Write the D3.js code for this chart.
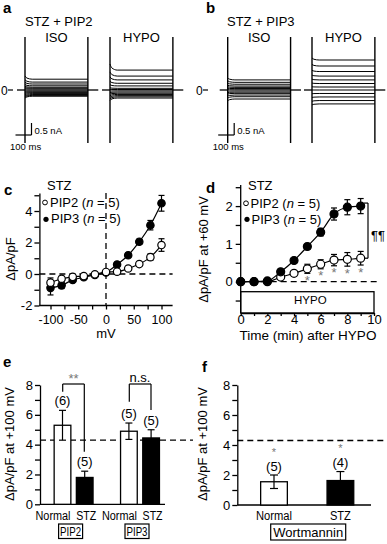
<!DOCTYPE html>
<html>
<head>
<meta charset="utf-8">
<script src="https://cdn.jsdelivr.net/npm/d3@7"></script>
<style>
  body { margin: 0; background: #fff; }
</style>
</head>
<body>
<div id="fig"></div>
<script>
// ---------- data ----------
// a, b: steady-state current of each voltage step (nA)
var aIsoLevels  = [0.45, 0.33, 0.25, 0.175, 0.115, 0.075, 0.04, 0, -0.04, -0.075, -0.11, -0.15, -0.19, -0.225, -0.26];
var aHypoLevels = [0.83, 0.58, 0.42, 0.28, 0.17, 0.07, 0.02, -0.035, -0.085, -0.135, -0.185, -0.235, -0.285, -0.335];
var bIsoLevels  = [0.42, 0.32, 0.24, 0.165, 0.11, 0.06, 0.01, -0.04, -0.09, -0.14, -0.21, -0.28, -0.375];
var bHypoLevels = [1.25, 1.0, 0.77, 0.58, 0.42, 0.27, 0.125, 0, -0.145, -0.29, -0.44, -0.58];

// c: I-V relation
var cVolt    = [-100, -80, -60, -40, -20, 0, 20, 40, 60, 80, 100];
var cPip2    = [-0.55, -0.3, -0.18, -0.13, -0.02, 0.13, 0.15, 0.35, 0.63, 1.07, 1.84];
var cPip2Err = [0.3, 0.15, 0.1, 0.08, 0.05, 0.05, 0.05, 0.08, 0.12, 0.2, 0.4];
var cPip3    = [-0.88, -0.72, -0.38, -0.21, -0.06, 0.1, 0.6, 1.19, 2.05, 3.1, 4.49];
var cPip3Err = [0.45, 0.2, 0.1, 0.08, 0.05, 0.05, 0.08, 0.1, 0.15, 0.3, 0.5];

// d: time course at +60 mV
var dTime    = [0, 1, 2, 3, 4, 5, 6, 7, 8, 9];
var dPip2    = [0, 0, 0, 0.12, 0.22, 0.34, 0.46, 0.57, 0.59, 0.62];
var dPip2Err = [0, 0, 0, 0.05, 0.07, 0.12, 0.12, 0.15, 0.18, 0.18];
var dPip3    = [0, 0, 0.02, 0.26, 0.56, 0.93, 1.31, 1.79, 1.97, 2.0];
var dPip3Err = [0, 0, 0.02, 0.05, 0.05, 0.06, 0.1, 0.16, 0.2, 0.2];
var dStarTimes = [5, 6, 7, 8, 9];

// e: bars at +100 mV
var eGroups = ['PIP2', 'PIP3'];
var eConds  = ['Normal', 'STZ'];
var eValues = [[5.3, 1.8], [4.9, 4.45]];
var eErrors = [[1.0, 0.42], [0.55, 0.55]];
var eCounts = [['(6)', '(5)'], ['(5)', '(5)']];
var controlLevel = 4.3;

// f: wortmannin
var fConds  = ['Normal', 'STZ'];
var fValues = [1.55, 1.63];
var fErrors = [0.45, 0.6];
var fCounts = ['(5)', '(4)'];

// ---------- setup ----------
var FONT = '"Liberation Sans", Arial, Helvetica, sans-serif';
var svg = d3.select('#fig').append('svg')
    .attr('width', 387).attr('height', 544)
    .style('background', '#fff')
    .attr('font-family', FONT);

function txt(x, y, s, size, anchor, extra) {
  var t = svg.append('text').attr('x', x).attr('y', y)
      .attr('font-size', size).attr('text-anchor', anchor || 'start')
      .attr('fill', '#000').text(s);
  if (extra) extra(t);
  return t;
}
function ln(x1, y1, x2, y2, w, dash) {
  return svg.append('line').attr('x1', x1).attr('y1', y1).attr('x2', x2).attr('y2', y2)
      .attr('stroke', '#000').attr('stroke-width', w || 1.3)
      .attr('stroke-dasharray', dash || null);
}
function ylabel(x, y, s) {
  svg.append('text').attr('transform', 'translate(' + x + ',' + y + ') rotate(-90)')
      .attr('text-anchor', 'middle').attr('font-size', 13).text(s);
}
function styleAxis(g, fs) {
  g.attr('font-family', FONT).attr('font-size', fs);
  g.selectAll('path, line').attr('stroke', '#000').attr('stroke-width', 1.3);
  g.selectAll('text').attr('fill', '#000');
}
function legendLine(name, t) {
  t.append('tspan').text(name + ' (');
  t.append('tspan').attr('font-style', 'italic').text('n');
  t.append('tspan').text(' = 5)');
}
function squeeze(w) {
  return function (t) { t.attr('textLength', w).attr('lengthAdjust', 'spacingAndGlyphs'); };
}
function gray(t) { t.attr('fill', '#777'); }

// panel letters
[['a', 3, 13], ['b', 206, 13], ['c', 4, 195], ['d', 206, 193], ['e', 3, 367], ['f', 202, 372]]
  .forEach(function (p) {
    txt(p[1], p[2], p[0], 15, 'start', function (t) { t.attr('font-weight', 'bold'); });
  });

// ---------- a, b: current traces ----------
var tScale = d3.scaleLinear().domain([0, 100]).range([0, 16]);    // 100 ms = 16 px
var iScale = d3.scaleLinear().domain([0, 0.5]).range([90, 78]);   // 0.5 nA = 12 px
var pulseMs = 393;

var traceSets = [
  { x0: 25,    levels: aIsoLevels,  peak: 1.3 },
  { x0: 110,   levels: aHypoLevels, peak: 1.3 },
  { x0: 227.7, levels: bIsoLevels,  peak: 1.2 },
  { x0: 312,   levels: bHypoLevels, peak: 1.07 }
];

traceSets.forEach(function (set) {
  var line = d3.line()
      .x(function (d) { return set.x0 + tScale(d[0]); })
      .y(function (d) { return iScale(d[1]); })
      .curve(d3.curveMonotoneX);
  var g = svg.append('g');
  g.selectAll('path')
    .data(set.levels)
    .enter()
    .append('path')
    .attr('d', function (lv) {
      return line([[0, lv * set.peak], [12, lv * (1 + (set.peak - 1) * 0.35)], [45, lv], [pulseMs, lv]]);
    })
    .attr('fill', 'none').attr('stroke', '#000').attr('stroke-width', 1);
  // holding segments
  ln(set.x0 - tScale(50), iScale(0), set.x0, iScale(0), 1.3);
  ln(set.x0 + tScale(pulseMs), iScale(0), set.x0 + tScale(pulseMs) + tScale(65), iScale(0), 1.3);
  // capacitive transients
  ln(set.x0, 37, set.x0, 143, 1.4);
  ln(set.x0 + tScale(pulseMs), 37, set.x0 + tScale(pulseMs), 143, 1.4);
});

// zero markers
txt(1, 94.5, '0', 12);
ln(8, 90, 13, 90, 1.2);
txt(196, 94.5, '0', 12);
ln(203, 90, 208, 90, 1.2);

// titles
txt(25, 26, 'STZ + PIP2', 13);
txt(227, 26, 'STZ + PIP3', 13);
txt(25 + tScale(pulseMs) / 2, 41.5, 'ISO', 13, 'middle');
txt(110 + tScale(pulseMs) / 2, 41.5, 'HYPO', 13, 'middle');
txt(227.7 + tScale(pulseMs) / 2, 41.5, 'ISO', 13, 'middle');
txt(312 + tScale(pulseMs) / 2, 41.5, 'HYPO', 13, 'middle');

// scale bars
[25, 227.7].forEach(function (x0) {
  var xr = x0 + 6.5;
  ln(xr - tScale(100), 135, xr, 135, 1.2);
  ln(xr, 135, xr, 135 - (iScale(0) - iScale(0.5)), 1.2);
  txt(xr + 3, 134, '0.5 nA', 9.5);
  txt(x0 - 15, 150, '100 ms', 9.5);
});

// ---------- c: I-V ----------
var xC = d3.scaleLinear().domain([-120, 120]).range([39.4, 172.6]);
var yC = d3.scaleLinear().domain([-2, 5.15]).range([305.5, 192.9]);

var gcy = svg.append('g').attr('transform', 'translate(39.4,0)')
  .call(d3.axisLeft(yC).tickValues([-2, -1, 0, 1, 2, 3, 4, 5]).tickSize(5).tickSizeOuter(0).tickPadding(2)
    .tickFormat(function (d) { return d % 2 === 0 ? String(d) : ''; }));
styleAxis(gcy, 13);
var gcx = svg.append('g').attr('transform', 'translate(0,305.5)')
  .call(d3.axisBottom(xC).tickValues(d3.range(-100, 101, 25)).tickSize(4).tickSizeOuter(0).tickPadding(6)
    .tickFormat(function (d) { return d % 50 === 0 ? String(d) : ''; }));
styleAxis(gcx, 12.5);
gcx.select('.domain').attr('d', 'M39.4,0H172.6');

ln(xC(-120), yC(0), xC(120), yC(0), 1.3, '6,4');
ln(xC(0), yC(5.15), xC(0), yC(-2), 1.3, '6,4');

txt(106, 338, 'mV', 13, 'middle');
ylabel(14.5, 259, '\u0394pA/pF');

function drawSeries(xs, ys, errs, xs_, ys_, filled, r) {
  var g = svg.append('g');
  var line = d3.line().x(function (d, i) { return xs_(xs[i]); }).y(function (d) { return ys_(d); })
      .curve(d3.curveMonotoneX);
  g.append('path').attr('d', line(ys)).attr('fill', 'none').attr('stroke', '#000').attr('stroke-width', 1.2);
  // error bars with caps
  ys.forEach(function (v, i) {
    if (errs[i] < 0.04) return;
    var x = xs_(xs[i]);
    [[x, ys_(v - errs[i]), x, ys_(v + errs[i])],
     [x - 3, ys_(v + errs[i]), x + 3, ys_(v + errs[i])],
     [x - 3, ys_(v - errs[i]), x + 3, ys_(v - errs[i])]].forEach(function (s) {
      g.append('line').attr('x1', s[0]).attr('y1', s[1]).attr('x2', s[2]).attr('y2', s[3])
        .attr('stroke', '#000').attr('stroke-width', 1.2);
    });
  });
  g.selectAll('circle').data(ys).enter().append('circle')
    .attr('cx', function (d, i) { return xs_(xs[i]); })
    .attr('cy', function (d) { return ys_(d); })
    .attr('r', r)
    .attr('fill', filled ? '#000' : '#fff')
    .attr('stroke', '#000').attr('stroke-width', 1.2);
}

drawSeries(cVolt, cPip3, cPip3Err, xC, yC, true, 3.7);
drawSeries(cVolt, cPip2, cPip2Err, xC, yC, false, 3.7);

// legend c
txt(47, 190, 'STZ', 13);
svg.append('circle').attr('cx', 45).attr('cy', 202.5).attr('r', 2.4).attr('fill', '#fff').attr('stroke', '#000').attr('stroke-width', 1);
legendLine('PIP2', txt(50, 206.5, '', 13));
svg.append('circle').attr('cx', 46).attr('cy', 219.3).attr('r', 2.6).attr('fill', '#000');
legendLine('PIP3', txt(51, 223, '', 13));

// ---------- d: time course ----------
var xD = d3.scaleLinear().domain([0, 10]).range([240.7, 374]);
var yD = d3.scaleLinear().domain([-0.83, 2.5]).range([313, 187.2]);

var gdy = svg.append('g').attr('transform', 'translate(240.7,0)')
  .call(d3.axisLeft(yD).tickValues([-0.5, 0, 0.5, 1, 1.5, 2, 2.5]).tickSize(5).tickSizeOuter(0).tickPadding(3)
    .tickFormat(function (d) { return Number.isInteger(d) ? String(d) : ''; }));
styleAxis(gdy, 13);
gdy.select('.domain').attr('d', 'M0,313V185');
var gdx = svg.append('g').attr('transform', 'translate(0,313)')
  .call(d3.axisBottom(xD).tickValues(d3.range(0, 11, 1)).tickSize(3).tickSizeOuter(0).tickPadding(-1)
    .tickFormat(function (d) { return d % 2 === 0 ? String(d) : ''; }));
styleAxis(gdx, 13);

// HYPO bar
svg.append('rect').attr('x', xD(0)).attr('y', 291.7).attr('width', xD(10) - xD(0)).attr('height', 313 - 291.7)
  .attr('fill', 'none').attr('stroke', '#000').attr('stroke-width', 1.3);
txt((xD(0) + xD(10)) / 2 + 3, 303.5, 'HYPO', 11.5, 'middle');

ln(xD(0), yD(0), xD(10.2), yD(0), 1.3, '6,4');

drawSeries(dTime, dPip2, dPip2Err, xD, yD, false, 4);
drawSeries(dTime, dPip3, dPip3Err, xD, yD, true, 4);

dStarTimes.forEach(function (t) {
  var i = dTime.indexOf(t);
  txt(xD(t), yD(dPip2[i] - dPip2Err[i]) + 11.5, '*', 13, 'middle', gray);
});

// significance bracket
var last = dTime.length - 1;
var bx = 368;
ln(bx, yD(dPip3[last] + 0.08), bx, yD(dPip2[last]), 1.2);
ln(bx - 4, yD(dPip3[last] + 0.08), bx, yD(dPip3[last] + 0.08), 1.2);
ln(bx - 4, yD(dPip2[last]), bx, yD(dPip2[last]), 1.2);
txt(371, 240, '\u00b6\u00b6', 13, 'start', function (s) { s.style('fill', '#000').attr('stroke', 'none'); });

txt(248, 190, 'STZ', 13);
svg.append('circle').attr('cx', 246).attr('cy', 203.3).attr('r', 2.4).attr('fill', '#fff').attr('stroke', '#000').attr('stroke-width', 1);
legendLine('PIP2', txt(250.5, 207.5, '', 13));
svg.append('circle').attr('cx', 247).attr('cy', 219.3).attr('r', 2.6).attr('fill', '#000');
legendLine('PIP3', txt(251.5, 223.5, '', 13));

txt(308, 340, 'Time (min) after HYPO', 13.5, 'middle');
ylabel(207.5, 249.5, '\u0394pA/pF at +60 mV');

// ---------- e: bars ----------
var yE = d3.scaleLinear().domain([0, 8]).range([504.3, 385]);
var xEg = d3.scalePoint().domain(eGroups).range([73.6, 140]);
var xEc = d3.scalePoint().domain(eConds).range([-11.1, 11.1]);
var eBarW = 16.7;

var gey = svg.append('g').attr('transform', 'translate(40,0)')
  .call(d3.axisLeft(yE).tickValues(d3.range(0, 9, 1)).tickSize(5).tickSizeOuter(0).tickPadding(2)
    .tickFormat(function (d) { return d % 2 === 0 ? String(d) : ''; }));
styleAxis(gey, 13);
ln(40, yE(0), 165, yE(0), 1.3);
ln(40, yE(controlLevel), 193, yE(controlLevel), 1.3, '6,4');

eGroups.forEach(function (grp, gi) {
  eConds.forEach(function (cond, ci) {
    var cx = xEg(grp) + xEc(cond);
    var v = eValues[gi][ci], e = eErrors[gi][ci];
    ln(cx, yE(v - e), cx, yE(v + e), 1.2);
    ln(cx - 3.5, yE(v + e), cx + 3.5, yE(v + e), 1.2);
    ln(cx - 3.5, yE(v - e), cx + 3.5, yE(v - e), 1.2);
    svg.append('rect').attr('x', cx - eBarW / 2).attr('y', yE(v)).attr('width', eBarW).attr('height', yE(0) - yE(v))
      .attr('fill', ci === 0 ? '#fff' : '#000').attr('stroke', '#000').attr('stroke-width', 1.3);
    if (ci === 0) { ln(cx, yE(v), cx, yE(v - e), 1.2); ln(cx - 3.5, yE(v - e), cx + 3.5, yE(v - e), 1.2); }
    txt(cx, yE(v + e) - 5, eCounts[gi][ci], 13, 'middle');
    txt(cx + (ci === 0 ? -9.5 : 1.5), 520, cond, 12, 'middle', squeeze(ci === 0 ? 35 : 20));
  });
  var gx = xEg(grp) - 3;
  svg.append('rect').attr('x', gx - 12).attr('y', 524).attr('width', 24).attr('height', 14.5)
    .attr('fill', 'none').attr('stroke', '#000').attr('stroke-width', 1.2);
  txt(gx, 535.5, grp, 12, 'middle', squeeze(21));
});

// brackets in e
ln(62.7, 384, 84.3, 384, 1.2); ln(62.7, 384, 62.7, 391.7, 1.2); ln(84.3, 384, 84.3, 451.7, 1.2);
txt(73.5, 382.5, '**', 13, 'middle', gray);
ln(129.3, 384, 151, 384, 1.2); ln(129.3, 384, 129.3, 401.7, 1.2); ln(151, 384, 151, 410, 1.2);
txt(140, 381.5, 'n.s.', 13, 'middle');

ylabel(13.5, 444, '\u0394pA/pF at +100 mV');

// ---------- f: wortmannin ----------
var yF = d3.scaleLinear().domain([0, 8]).range([505, 385]);
var xF = d3.scalePoint().domain(fConds).range([274, 340.4]);
var fBarW = 26.7;

var gfy = svg.append('g').attr('transform', 'translate(237.3,0)')
  .call(d3.axisLeft(yF).tickValues(d3.range(0, 9, 1)).tickSize(5).tickSizeOuter(0).tickPadding(2)
    .tickFormat(function (d) { return d % 2 === 0 ? String(d) : ''; }));
styleAxis(gfy, 13);
ln(237.3, yF(0), 371, yF(0), 1.3);
ln(237.3, yF(controlLevel), 387, yF(controlLevel), 1.3, '6,4');

fConds.forEach(function (cond, i) {
  var cx = xF(cond), v = fValues[i], e = fErrors[i];
  ln(cx, yF(v - e), cx, yF(v + e), 1.2);
  ln(cx - 4, yF(v + e), cx + 4, yF(v + e), 1.2);
  svg.append('rect').attr('x', cx - fBarW / 2).attr('y', yF(v)).attr('width', fBarW).attr('height', yF(0) - yF(v))
    .attr('fill', i === 0 ? '#fff' : '#000').attr('stroke', '#000').attr('stroke-width', 1.3);
  if (i === 0) { ln(cx, yF(v), cx, yF(v - e), 1.2); ln(cx - 4, yF(v - e), cx + 4, yF(v - e), 1.2); }
  txt(cx, yF(v + e) - 4.5, fCounts[i], 13, 'middle');
  txt(cx, yF(v + e) - 19.5, '*', 11, 'middle', gray);
  txt(cx, 520, cond, 12, 'middle', squeeze(cond === 'STZ' ? 21 : 36));
});
svg.append('rect').attr('x', 270.7).attr('y', 524).attr('width', 75).attr('height', 16)
  .attr('fill', 'none').attr('stroke', '#000').attr('stroke-width', 1.2);
txt(308.2, 536.5, 'Wortmannin', 13, 'middle');

ylabel(206.5, 444, '\u0394pA/pF at +100 mV');
</script>
</body>
</html>
